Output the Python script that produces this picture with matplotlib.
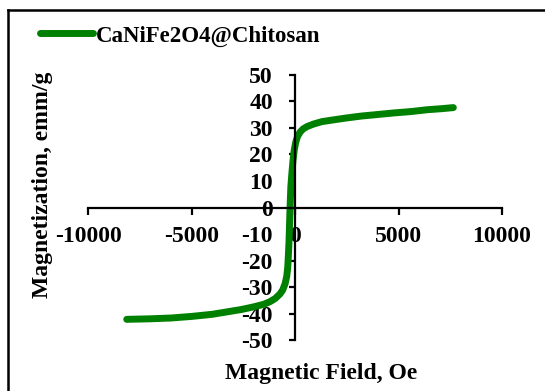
import matplotlib
matplotlib.use("Agg")
import matplotlib.pyplot as plt
from matplotlib.lines import Line2D

plt.rcParams['font.family'] = ['Liberation Serif', 'DejaVu Serif']
plt.rcParams['font.weight'] = 'bold'
plt.rcParams['axes.unicode_minus'] = False

# M-H loop of CaNiFe2O4@Chitosan, field in Oe, magnetization in emu/g
field = [-8130, -7000, -6000, -5000, -4000, -3300, -2600, -2000, -1500, -1200,
         -950, -725, -600, -480, -400, -350, -320, -290, -270, -255,
         -230, -200, -150, -100, -40, 30, 120, 250, 400, 600,
         900, 1300, 1800, 2500, 3200, 4000, 4800, 5600, 6400, 7100, 7650]
magn = [-42.2, -42.0, -41.7, -41.1, -40.3, -39.4, -38.5, -37.5, -36.5, -35.5,
        -34.3, -32.6, -31.2, -28.8, -26.0, -22.5, -18.0, -13.0, -8.0, -4.0,
        2.0, 8.0, 13.0, 17.5, 21.5, 24.5, 26.8, 28.5, 29.7, 30.6,
        31.5, 32.4, 33.0, 33.8, 34.5, 35.1, 35.7, 36.2, 36.9, 37.3, 37.7]
series_name = "CaNiFe2O4@Chitosan"
xticks = [-10000, -5000, 0, 5000, 10000]
yticks = [-50, -40, -30, -20, -10, 0, 10, 20, 30, 40, 50]

fig = plt.figure(figsize=(5.45, 3.91), dpi=100)
ax = fig.add_axes([0.1615, 0.1304, 0.7596, 0.6778])

green = '#008000'
ax.plot(field, magn, color=green, lw=5, solid_capstyle='round',
        solid_joinstyle='round', label=series_name)

ax.set_xlim(-10000, 10000)
ax.set_ylim(-50, 50)
ax.set_xticks(xticks)
ax.set_yticks(yticks)

# axes cross at the origin
ax.spines['left'].set_position(('data', 0))
ax.spines['bottom'].set_position(('data', 0))
ax.spines['top'].set_visible(False)
ax.spines['right'].set_visible(False)
for s in ('left', 'bottom'):
    ax.spines[s].set_linewidth(1.6)
ax.tick_params(axis='x', direction='out', length=5, width=1.6, pad=8, labelsize=17)
ax.tick_params(axis='y', direction='out', length=4, width=1.6, pad=12, labelsize=17)
for lab in ax.get_xticklabels() + ax.get_yticklabels():
    lab.set_fontweight('bold')

fig.text(0.59, 1 - 379 / 391, "Magnetic Field, Oe", ha='center', va='baseline',
         fontsize=17, fontweight='bold')
fig.text(43 / 545, 1 - 185 / 391, "Magnetization, emm/g", ha='center', va='center',
         rotation=90, fontsize=17, fontweight='bold')

ax.legend(loc='center left', bbox_to_anchor=(40 / 545, 1 - 36 / 391),
          bbox_transform=fig.transFigure, frameon=False, borderpad=0,
          borderaxespad=0, handlelength=2.3, handletextpad=0.15,
          prop={'size': 16.5, 'weight': 'bold'})

# outer chart border (only top and left edges fall inside the image)
fig.add_artist(Line2D([8.3 / 545, 8.3 / 545], [-0.05, 1 - 10.3 / 391],
                      transform=fig.transFigure, color='black', lw=1.8))
fig.add_artist(Line2D([8.3 / 545, 1.05], [1 - 10.3 / 391, 1 - 10.3 / 391],
                      transform=fig.transFigure, color='black', lw=1.8))

fig.savefig("out.png", dpi=100)
